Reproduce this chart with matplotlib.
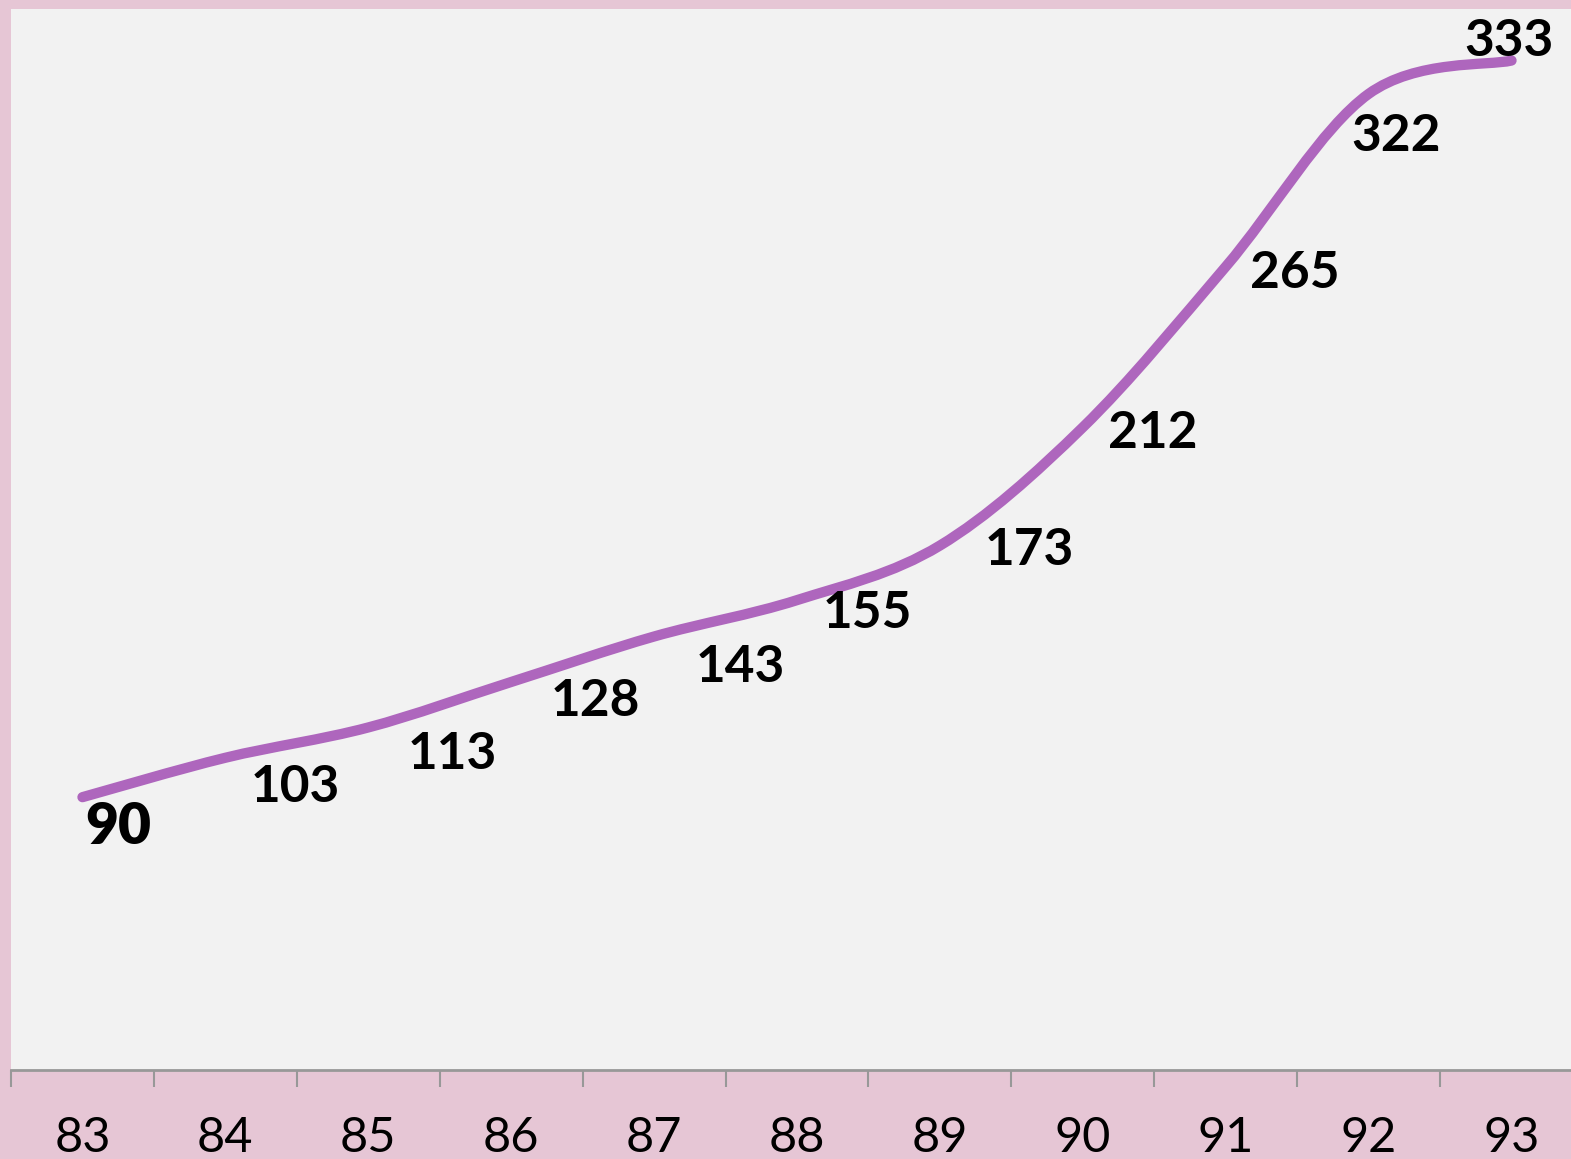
import matplotlib
matplotlib.use("Agg")
import matplotlib.pyplot as plt
from matplotlib.path import Path
from matplotlib.patches import PathPatch
import numpy as np

years = ["83", "84", "85", "86", "87", "88", "89", "90", "91", "92", "93"]
values = [90, 103, 113, 128, 143, 155, 173, 212, 265, 322, 333]

# label offsets in pixels (dx right, dy down), layout only
label_dx = [36, 70, 84, 84, 86, 70, 89, 70, 69, 27, -3]
label_dy = [25, 25, 23, 15, 26, 9, 0, 2, 2, 38, -24]

W, H = 1571, 1159
fig = plt.figure(figsize=(W / 100, H / 100), dpi=100)
fig.patch.set_facecolor("#e6c6d5")

ax_left = 11 / W
ax_width = 1572 / W
ax_bottom = (H - 1070) / H
ax_height = (1070 - 9) / H
ax = fig.add_axes([ax_left, ax_bottom, ax_width, ax_height])
ax.set_facecolor("#f2f2f2")

x = np.arange(len(values), dtype=float)
y = np.array(values, dtype=float)

# smoothed line as cubic Bezier path (Catmull-Rom style control points)
verts = [(x[0], y[0])]
codes = [Path.MOVETO]
n = len(x)
for i in range(n - 1):
    p0 = (x[max(i - 1, 0)], y[max(i - 1, 0)])
    p1 = (x[i], y[i])
    p2 = (x[i + 1], y[i + 1])
    p3 = (x[min(i + 2, n - 1)], y[min(i + 2, n - 1)])
    c1 = (p1[0] + (p2[0] - p0[0]) / 6, p1[1] + (p2[1] - p0[1]) / 6)
    c2 = (p2[0] - (p3[0] - p1[0]) / 6, p2[1] - (p3[1] - p1[1]) / 6)
    verts += [c1, c2, p2]
    codes += [Path.CURVE4, Path.CURVE4, Path.CURVE4]
path = Path(verts, codes)
patch = PathPatch(path, facecolor="none", edgecolor="#ae66bd", lw=7.4,
                  capstyle="round", joinstyle="round", zorder=3)
ax.add_patch(patch)

ax.set_xlim(-0.5, len(values) - 0.5)
ax.set_ylim(0, 350)

for i, v in enumerate(values):
    ax.annotate(str(v), (x[i], y[i]), xytext=(label_dx[i], -label_dy[i]),
                textcoords="offset pixels", ha="center", va="center_baseline",
                fontsize=(41 if i == 0 else 37), fontweight=("heavy" if i == 0 else "bold"),
                family=["Lato", "DejaVu Sans"], color="black", zorder=4)

for s in ["top", "right", "left"]:
    ax.spines[s].set_visible(False)
ax.spines["bottom"].set_color("#989898")
ax.spines["bottom"].set_linewidth(2)
ax.set_yticks([])
ax.set_xticks(x)
ax.set_xticklabels(years, fontsize=35, family=["Lato", "DejaVu Sans"], color="black")
ax.tick_params(axis="x", which="major", length=0, pad=33)
ax.set_xticks(np.arange(-0.5, len(values) + 0.5, 1), minor=True)
ax.tick_params(axis="x", which="minor", length=12, width=1.5, color="#989898")

fig.savefig("out.png", dpi=100, facecolor=fig.get_facecolor())
